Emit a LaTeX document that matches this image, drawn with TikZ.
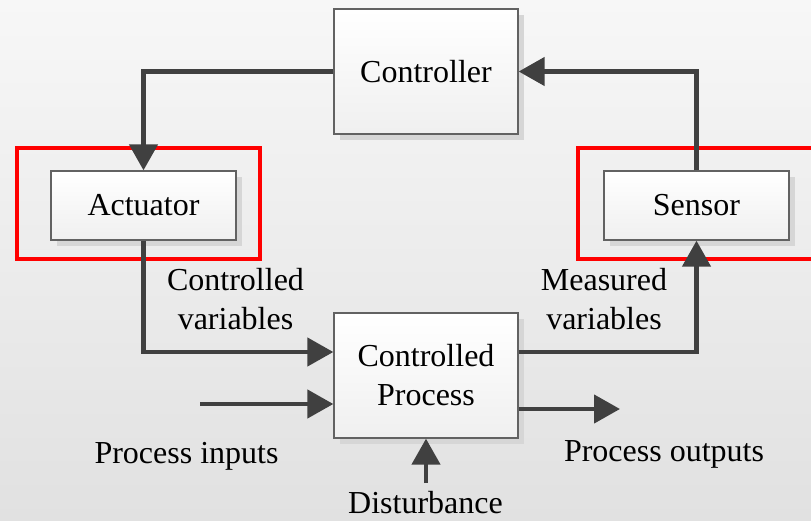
\documentclass[tikz,border=0pt]{standalone}
\usepackage{fontspec}
\setmainfont{Liberation Serif}
\usetikzlibrary{arrows.meta,calc}
\definecolor{bgtop}{HTML}{F7F7F7}
\definecolor{bgbot}{HTML}{E1E1E1}
\definecolor{linegray}{HTML}{404040}
\definecolor{boxedge}{HTML}{626262}
\definecolor{shadowgray}{HTML}{D6D6D6}
\tikzset{
  blockbox/.style={draw=boxedge, line width=1.3pt, top color=white, bottom color=black!6,
    align=center, inner sep=0pt, font=\fontsize{32}{39}\selectfont},
  bigbox/.style={blockbox, minimum width=184pt, minimum height=125pt},
  smallbox/.style={blockbox, minimum width=185pt, minimum height=69pt},
  boxshadow/.style={fill=shadowgray, draw=none},
  arr/.style={draw=linegray, line width=4.5pt, -{Triangle[length=26pt,width=28pt]}},
  redframe/.style={draw=red, line width=4pt},
  lbl/.style={font=\fontsize{32}{39}\selectfont, align=center, inner sep=0pt}
}
\begin{document}
\begin{tikzpicture}[x=1pt,y=-1pt]
  \useasboundingbox (0,0) rectangle (811,520);
  \clip (0,0) rectangle (811,520);
  \shade[top color=bgtop, bottom color=bgbot] (0,0) rectangle (811,520);
  % shadows
  \fill[boxshadow] (340,15) rectangle (524,140);
  \fill[boxshadow] (57,177) rectangle (242,246);
  \fill[boxshadow] (610,177) rectangle (795,246);
  \fill[boxshadow] (340,319) rectangle (524,444);
  % boxes
  \node[bigbox] (ctrl) at (426,71.5) {Controller};
  \node[smallbox] (act) at (143.5,205.5) {Actuator};
  \node[smallbox] (sens) at (696.5,205.5) {Sensor};
  \node[bigbox] (proc) at (426,375.5) {Controlled\\Process};
  % red frames
  \draw[redframe] (17,148) rectangle (260,259);
  \draw[redframe] (578,148) rectangle (830,259);
  % connectors
  \draw[arr] (ctrl.west) -| (act.north);
  \draw[arr] (act.south) |- ($(proc.west)+(0,-23.5)$);
  \draw[arr] ($(proc.east)+(0,-23.5)$) -| (sens.south);
  \draw[arr] (sens.north) |- (ctrl.east);
  \coordinate (pin) at (200,404);
  \draw[arr] (pin) -- (pin -| proc.west);
  \coordinate (pout) at (620,409);
  \draw[arr] (pout -| proc.east) -- (pout);
  \coordinate (dist) at (426,483);
  \draw[arr] (dist) -- (proc.south);
  % labels
  \node[lbl] (cv) at (235.5,299.5) {Controlled\\variables};
  \node[lbl] (mv) at (604,299.5) {Measured\\variables};
  \node[lbl, anchor=base] (pi) at (186.5,463) {Process inputs};
  \node[lbl, anchor=base] (po) at (664,461) {Process outputs};
  \node[lbl, anchor=base] (db) at (425.5,513) {Disturbance};
\end{tikzpicture}
\end{document}
